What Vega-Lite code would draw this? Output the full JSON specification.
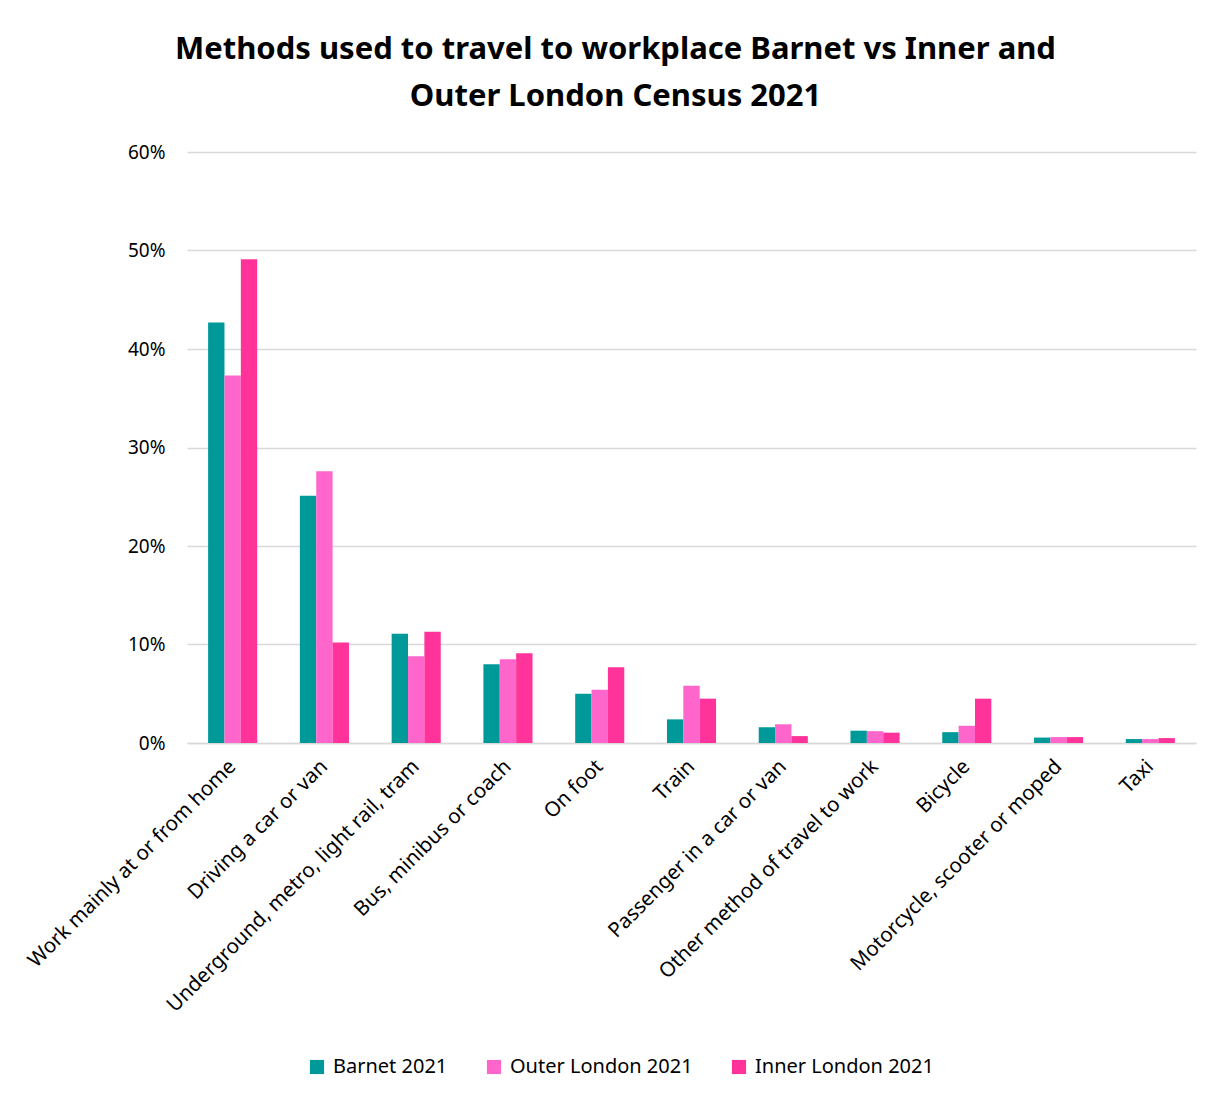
{
  "$schema": "https://vega.github.io/schema/vega-lite/v6.json",
  "autosize": "none",
  "width": 1009,
  "height": 591,
  "padding": {"left": 187, "top": 152, "right": 24, "bottom": 358},
  "background": "white",
  "config": {
    "view": {"stroke": null},
    "font": "Noto Sans"
  },
  "title": {
    "text": ["Methods used to travel to workplace Barnet vs Inner and", "Outer London Census 2021"],
    "fontSize": 31,
    "fontWeight": "bold",
    "font": "Noto Sans",
    "color": "#000000",
    "lineHeight": 47,
    "anchor": "middle",
    "dx": -76,
    "offset": 30
  },
  "data": {
    "values": [
      {"method": "Work mainly at or from home", "area": "Barnet 2021", "value": 0.427},
      {"method": "Work mainly at or from home", "area": "Outer London 2021", "value": 0.373},
      {"method": "Work mainly at or from home", "area": "Inner London 2021", "value": 0.491},
      {"method": "Driving a car or van", "area": "Barnet 2021", "value": 0.251},
      {"method": "Driving a car or van", "area": "Outer London 2021", "value": 0.276},
      {"method": "Driving a car or van", "area": "Inner London 2021", "value": 0.102},
      {"method": "Underground, metro, light rail, tram", "area": "Barnet 2021", "value": 0.111},
      {"method": "Underground, metro, light rail, tram", "area": "Outer London 2021", "value": 0.088},
      {"method": "Underground, metro, light rail, tram", "area": "Inner London 2021", "value": 0.113},
      {"method": "Bus, minibus or coach", "area": "Barnet 2021", "value": 0.080},
      {"method": "Bus, minibus or coach", "area": "Outer London 2021", "value": 0.085},
      {"method": "Bus, minibus or coach", "area": "Inner London 2021", "value": 0.091},
      {"method": "On foot", "area": "Barnet 2021", "value": 0.050},
      {"method": "On foot", "area": "Outer London 2021", "value": 0.054},
      {"method": "On foot", "area": "Inner London 2021", "value": 0.077},
      {"method": "Train", "area": "Barnet 2021", "value": 0.024},
      {"method": "Train", "area": "Outer London 2021", "value": 0.058},
      {"method": "Train", "area": "Inner London 2021", "value": 0.045},
      {"method": "Passenger in a car or van", "area": "Barnet 2021", "value": 0.016},
      {"method": "Passenger in a car or van", "area": "Outer London 2021", "value": 0.019},
      {"method": "Passenger in a car or van", "area": "Inner London 2021", "value": 0.007},
      {"method": "Other method of travel to work", "area": "Barnet 2021", "value": 0.0125},
      {"method": "Other method of travel to work", "area": "Outer London 2021", "value": 0.012},
      {"method": "Other method of travel to work", "area": "Inner London 2021", "value": 0.0105},
      {"method": "Bicycle", "area": "Barnet 2021", "value": 0.011},
      {"method": "Bicycle", "area": "Outer London 2021", "value": 0.0175},
      {"method": "Bicycle", "area": "Inner London 2021", "value": 0.045},
      {"method": "Motorcycle, scooter or moped", "area": "Barnet 2021", "value": 0.0055},
      {"method": "Motorcycle, scooter or moped", "area": "Outer London 2021", "value": 0.006},
      {"method": "Motorcycle, scooter or moped", "area": "Inner London 2021", "value": 0.006},
      {"method": "Taxi", "area": "Barnet 2021", "value": 0.004},
      {"method": "Taxi", "area": "Outer London 2021", "value": 0.004},
      {"method": "Taxi", "area": "Inner London 2021", "value": 0.005}
    ]
  },
  "mark": {"type": "bar"},
  "encoding": {
    "x": {
      "field": "method",
      "type": "nominal",
      "sort": null,
      "scale": {"paddingInner": 0.465, "paddingOuter": 0.23},
      "axis": {
        "title": null,
        "labelAngle": -45,
        "labelAlign": "right",
        "labelBaseline": "middle",
        "labelFontSize": 20.5,
        "labelColor": "#000000",
        "labelPadding": 20,
        "labelLimit": 400,
        "ticks": false,
        "domainColor": "#d9d9d9",
        "domainWidth": 1.5
      }
    },
    "xOffset": {"field": "area", "type": "nominal", "sort": ["Barnet 2021", "Outer London 2021", "Inner London 2021"]},
    "y": {
      "field": "value",
      "type": "quantitative",
      "scale": {"domain": [0, 0.6]},
      "axis": {
        "title": null,
        "format": ".0%",
        "values": [0, 0.1, 0.2, 0.3, 0.4, 0.5, 0.6],
        "labelOverlap": false,
        "labelFontSize": 19,
        "labelColor": "#000000",
        "labelPadding": 22,
        "ticks": false,
        "domain": false,
        "gridColor": "#d9d9d9",
        "gridWidth": 1.5
      }
    },
    "color": {
      "field": "area",
      "type": "nominal",
      "sort": ["Barnet 2021", "Outer London 2021", "Inner London 2021"],
      "scale": {
        "domain": ["Barnet 2021", "Outer London 2021", "Inner London 2021"],
        "range": ["#009999", "#ff66cc", "#ff3399"]
      },
      "legend": {
        "title": null,
        "orient": "none",
        "direction": "horizontal",
        "legendX": 120,
        "legendY": 905,
        "symbolType": "square",
        "symbolSize": 200,
        "symbolStrokeWidth": 0,
        "labelFontSize": 20,
        "labelLimit": 300,
        "labelColor": "#000000",
        "columnPadding": 36,
        "labelOffset": 6
      }
    }
  }
}
